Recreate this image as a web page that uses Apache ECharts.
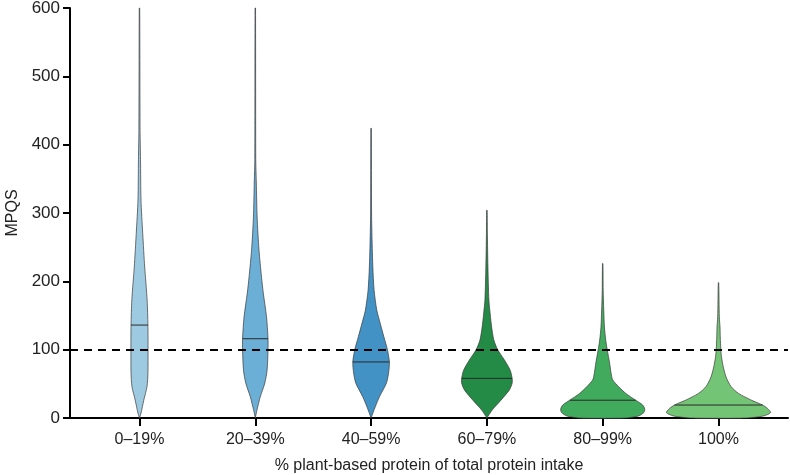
<!DOCTYPE html>
<html>
<head>
<meta charset="utf-8">
<script src="https://cdn.jsdelivr.net/npm/echarts@6/dist/echarts.min.js"></script>
<style>
  html, body { margin: 0; padding: 0; background: #fff; }
  #main { width: 790px; height: 475px; }
</style>
</head>
<body>
<div id="main"></div>
<script>
// categories on the x axis
var categories = ['0–19%', '20–39%', '40–59%', '60–79%', '80–99%', '100%'];
var medians = [136, 116, 82, 58, 26, 19];
var colors = ['#9ecae1', '#6baed6', '#4292c6', '#238b45', '#41ab5d', '#74c476'];
var yTicks = [0, 100, 200, 300, 400, 500, 600];

// violin outlines: MPQS levels and half width (in category units) at each level
var levels0 = [0, 7, 26, 46, 66, 100, 136, 173, 221, 270, 319, 378, 421, 600];
var widths0 = [0, 0.013, 0.037, 0.065, 0.073, 0.074, 0.073, 0.066, 0.045, 0.028, 0.013, 0.009, 0.005, 0.002];
var levels1 = [0, 12, 31, 51, 70, 100, 116, 148, 183, 206, 246, 294, 344, 378, 600];
var widths1 = [0, 0.015, 0.043, 0.082, 0.102, 0.110, 0.110, 0.097, 0.069, 0.054, 0.032, 0.016, 0.009, 0.004, 0.002];
var levels2 = [0, 16, 31, 51, 66, 82, 100, 119, 139, 158, 187, 221, 256, 300, 424];
var widths2 = [0, 0.035, 0.072, 0.132, 0.151, 0.158, 0.141, 0.110, 0.078, 0.049, 0.026, 0.015, 0.009, 0.004, 0.002];
var levels3 = [0, 12, 26, 41, 51, 58, 70, 85, 100, 114, 133, 153, 173, 221, 270, 304];
var widths3 = [0, 0.047, 0.121, 0.194, 0.218, 0.218, 0.201, 0.151, 0.093, 0.060, 0.041, 0.028, 0.017, 0.009, 0.004, 0.002];
var levels4 = [0, 3, 8, 13, 19, 26, 36, 46, 56, 66, 80, 100, 114, 133, 158, 187, 226];
var widths4 = [0.20, 0.31, 0.355, 0.363, 0.345, 0.285, 0.199, 0.136, 0.086, 0.072, 0.060, 0.039, 0.026, 0.015, 0.009, 0.004, 0.002];
var levels5 = [0, 3, 8, 14, 19, 26, 36, 46, 60, 75, 89, 100, 119, 133, 148, 198];
var widths5 = [0.24, 0.39, 0.45, 0.423, 0.38, 0.285, 0.173, 0.108, 0.065, 0.041, 0.026, 0.020, 0.015, 0.013, 0.007, 0.002];

var levels = [levels0, levels1, levels2, levels3, levels4, levels5];
var widths = [widths0, widths1, widths2, widths3, widths4, widths5];

function widthAt(k, y) {
    var ys = levels[k], ws = widths[k];
    for (var j = 1; j < ys.length; j++) {
        if (y <= ys[j]) {
            var t = (y - ys[j - 1]) / (ys[j] - ys[j - 1]);
            return ws[j - 1] + t * (ws[j] - ws[j - 1]);
        }
    }
    return 0;
}

function renderViolin(params, api) {
    var k = params.dataIndex;
    var ys = levels[k], ws = widths[k];
    var pts = [];
    for (var j = 0; j < ys.length; j++) pts.push(api.coord([k + ws[j], ys[j]]));
    for (var j = ys.length - 1; j >= 0; j--) pts.push(api.coord([k - ws[j], ys[j]]));
    var mw = widthAt(k, medians[k]);
    var a = api.coord([k - mw, medians[k]]);
    var b = api.coord([k + mw, medians[k]]);
    return {
        type: 'group',
        children: [{
            type: 'polygon',
            shape: { points: pts, smooth: 0.25 },
            style: { fill: colors[k], stroke: '#3a3a3a', lineWidth: 0.7 }
        }, {
            type: 'line',
            shape: { x1: a[0], y1: a[1], x2: b[0], y2: b[1] },
            style: { stroke: '#2a2a2a', lineWidth: 1 }
        }]
    };
}

var myChart = echarts.init(document.getElementById('main'));
var option = {
    animation: false,
    grid: { left: 70, right: 2, top: 8, bottom: 57, outerBoundsMode: 'none' },
    textStyle: { fontFamily: 'Liberation Sans' },
    xAxis: {
        type: 'value',
        min: -0.6,
        max: 5.6,
        splitLine: { show: false },
        name: '% plant-based protein of total protein intake',
        nameLocation: 'middle',
        nameGap: 40,
        nameTextStyle: { fontSize: 16, color: '#222', fontFamily: 'Liberation Sans' },
        axisLine: { onZero: false, lineStyle: { color: '#000', width: 2 } },
        axisTick: {
            customValues: [0, 1, 2, 3, 4, 5],
            length: 8,
            lineStyle: { color: '#000', width: 2 }
        },
        axisLabel: {
            customValues: [0, 1, 2, 3, 4, 5],
            margin: 14,
            fontSize: 16,
            color: '#222',
            formatter: function (v) { return categories[Math.round(v)]; }
        }
    },
    yAxis: {
        type: 'value',
        min: 0,
        max: 600,
        interval: 100,
        splitLine: { show: false },
        name: 'MPQS',
        nameLocation: 'middle',
        nameGap: 48,
        nameTextStyle: { fontSize: 16, color: '#222', fontFamily: 'Liberation Sans' },
        axisLine: { show: true, onZero: false, lineStyle: { color: '#000', width: 2 } },
        axisTick: { show: true, length: 7, lineStyle: { color: '#000', width: 2 } },
        axisLabel: {
            fontSize: 17,
            color: '#222',
            margin: 10,
            formatter: function (v) { return yTicks.indexOf(v) >= 0 ? String(v) : ''; }
        }
    },
    series: [{
        type: 'custom',
        renderItem: renderViolin,
        data: categories.map(function (c, i) { return [i, medians[i]]; }),
        encode: { x: 0, y: 1 },
        clip: false,
        z: 2,
        markLine: {
            silent: true,
            symbol: 'none',
            label: { show: false },
            lineStyle: { color: '#000', width: 2, type: [8, 6] },
            data: [{ yAxis: 100 }]
        }
    }]
};
myChart.setOption(option);
</script>
</body>
</html>
